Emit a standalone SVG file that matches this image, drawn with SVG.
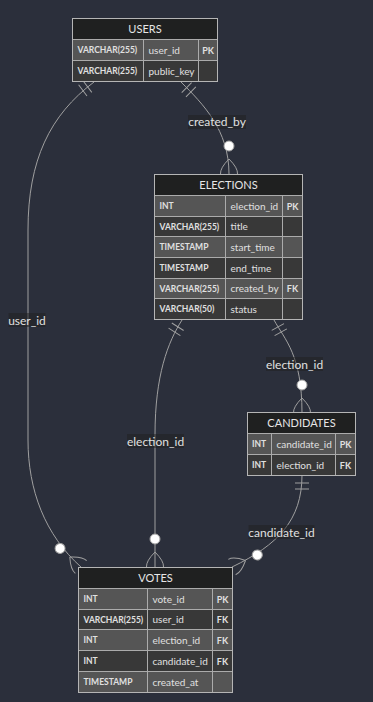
<svg xmlns="http://www.w3.org/2000/svg" width="373" height="702" viewBox="0 0 373 702">
  <style>
    .bg { fill: #2b2f3b; }
    .title { fill: #1f2020; stroke: #ababab; stroke-width: 1; }
    .odd { fill: #555555; stroke: #ababab; stroke-width: 1; }
    .even { fill: #383838; stroke: #ababab; stroke-width: 1; }
    .frame { fill: none; stroke: #b5b5b5; stroke-width: 1; }
    .tname { font-family: Lato, "Liberation Sans", sans-serif; font-size: 11px; fill: #e6e6e6; text-anchor: middle; }
    .type { font-family: Lato, "Liberation Sans", sans-serif; font-size: 8.5px; font-weight: bold; fill: #e0e0e0; }
    .attr { font-family: Lato, "Liberation Sans", sans-serif; font-size: 10px; fill: #e0e0e0; }
    .key { font-family: Lato, "Liberation Sans", sans-serif; font-size: 9px; font-weight: bold; fill: #e0e0e0; text-anchor: middle; }
    .rel { fill: none; stroke: #a0a0a0; stroke-width: 1; }
    .lblbg { fill: #1f2020; opacity: 0.5; }
    .lbl { font-family: Lato, "Liberation Sans", sans-serif; font-size: 12px; fill: #e0e0e0; text-anchor: middle; }
  </style>
  <defs>
    <marker id="onlyOneStart" viewBox="0 -9 18 18" refX="0" refY="0" markerWidth="18" markerHeight="18" markerUnits="userSpaceOnUse" orient="auto" overflow="visible">
      <path d="M8,-7 L8,7 M14,-7 L14,7" fill="none" stroke="#a0a0a0" stroke-width="1"/>
    </marker>
    <marker id="zeroOrMoreEnd" viewBox="-36 -10 38 20" refX="0" refY="0" markerWidth="38" markerHeight="20" markerUnits="userSpaceOnUse" orient="auto" overflow="visible">
      <path d="M-15,0 Q-6,-9 0,-8.5 M-15,0 Q-6,9 0,8.5" fill="none" stroke="#a0a0a0" stroke-width="1"/>
      <circle cx="-28" cy="0" r="5" fill="#ffffff" stroke="#a0a0a0" stroke-width="1"/>
    </marker>
  </defs>

  <rect class="bg" x="0" y="0" width="373" height="702"/>

  <!-- relationships -->
  <g id="connectors">
    <path class="rel" d="M181,82 C203,104 229,130 229,174" marker-start="url(#onlyOneStart)" marker-end="url(#zeroOrMoreEnd)"/>
    <path class="rel" d="M94,82 C50,115 28,160 28,230 L28,440 C28,490 45,535 81,567" marker-start="url(#onlyOneStart)" marker-end="url(#zeroOrMoreEnd)"/>
    <path class="rel" d="M274,320 C285,340 302,355 302,413" marker-start="url(#onlyOneStart)" marker-end="url(#zeroOrMoreEnd)"/>
    <path class="rel" d="M182,320 C168,342 155,375 155,435 L155,567" marker-start="url(#onlyOneStart)" marker-end="url(#zeroOrMoreEnd)"/>
    <path class="rel" d="M302,475 C302,520 278,545 232,567" marker-start="url(#onlyOneStart)" marker-end="url(#zeroOrMoreEnd)"/>

    <rect class="lblbg" x="188" y="115" width="58" height="14"/>
    <text class="lbl" x="217" y="126">created_by</text>
    <rect class="lblbg" x="8.5" y="313" width="37" height="14"/>
    <text class="lbl" x="27" y="324.5">user_id</text>
    <rect class="lblbg" x="266" y="357" width="57" height="14"/>
    <text class="lbl" x="294.5" y="368.5">election_id</text>
    <rect class="lblbg" x="127" y="434" width="57" height="14"/>
    <text class="lbl" x="155.5" y="445.5">election_id</text>
    <rect class="lblbg" x="248.5" y="525" width="66" height="14"/>
    <text class="lbl" x="281.5" y="536.5">candidate_id</text>
  </g>

  <!-- USERS -->
  <g id="users">
    <rect class="title" x="72.5" y="18.5" width="145" height="21"/>
    <text class="tname" x="145" y="33">USERS</text>
    <rect class="odd" x="72.5" y="39.5" width="71" height="21"/>
    <rect class="odd" x="143.5" y="39.5" width="55" height="21"/>
    <rect class="odd" x="198.5" y="39.5" width="19" height="21"/>
    <rect class="even" x="72.5" y="60.5" width="71" height="21"/>
    <rect class="even" x="143.5" y="60.5" width="55" height="21"/>
    <rect class="even" x="198.5" y="60.5" width="19" height="21"/>
    <rect class="frame" x="72.5" y="18.5" width="145" height="63"/>
    <text class="type" x="77.5" y="53">VARCHAR(255)</text>
    <text class="attr" x="148.5" y="53.5">user_id</text>
    <text class="key" x="208" y="53.5">PK</text>
    <text class="type" x="77.5" y="74">VARCHAR(255)</text>
    <text class="attr" x="148.5" y="74.5">public_key</text>
  </g>

  <!-- ELECTIONS -->
  <g id="elections">
    <rect class="title" x="154.5" y="174.5" width="148" height="21"/>
    <text class="tname" x="228.5" y="189">ELECTIONS</text>
    <rect class="odd" x="154.5" y="195.5" width="71" height="21"/>
    <rect class="odd" x="225.5" y="195.5" width="57" height="21"/>
    <rect class="odd" x="282.5" y="195.5" width="20" height="21"/>
    <rect class="even" x="154.5" y="216.5" width="71" height="20"/>
    <rect class="even" x="225.5" y="216.5" width="57" height="20"/>
    <rect class="even" x="282.5" y="216.5" width="20" height="20"/>
    <rect class="odd" x="154.5" y="236.5" width="71" height="21"/>
    <rect class="odd" x="225.5" y="236.5" width="57" height="21"/>
    <rect class="odd" x="282.5" y="236.5" width="20" height="21"/>
    <rect class="even" x="154.5" y="257.5" width="71" height="21"/>
    <rect class="even" x="225.5" y="257.5" width="57" height="21"/>
    <rect class="even" x="282.5" y="257.5" width="20" height="21"/>
    <rect class="odd" x="154.5" y="278.5" width="71" height="20"/>
    <rect class="odd" x="225.5" y="278.5" width="57" height="20"/>
    <rect class="odd" x="282.5" y="278.5" width="20" height="20"/>
    <rect class="even" x="154.5" y="298.5" width="71" height="21"/>
    <rect class="even" x="225.5" y="298.5" width="57" height="21"/>
    <rect class="even" x="282.5" y="298.5" width="20" height="21"/>
    <rect class="frame" x="154.5" y="174.5" width="148" height="145"/>
    <text class="type" x="159.5" y="209">INT</text>
    <text class="attr" x="230.5" y="209.5">election_id</text>
    <text class="key" x="292.5" y="209.5">PK</text>
    <text class="type" x="159.5" y="229.5">VARCHAR(255)</text>
    <text class="attr" x="230.5" y="230">title</text>
    <text class="type" x="159.5" y="250">TIMESTAMP</text>
    <text class="attr" x="230.5" y="250.5">start_time</text>
    <text class="type" x="159.5" y="271">TIMESTAMP</text>
    <text class="attr" x="230.5" y="271.5">end_time</text>
    <text class="type" x="159.5" y="291.5">VARCHAR(255)</text>
    <text class="attr" x="230.5" y="292">created_by</text>
    <text class="key" x="292.5" y="292">FK</text>
    <text class="type" x="159.5" y="312">VARCHAR(50)</text>
    <text class="attr" x="230.5" y="312.5">status</text>
  </g>

  <!-- CANDIDATES -->
  <g id="candidates">
    <rect class="title" x="247.5" y="412.5" width="108" height="21"/>
    <text class="tname" x="301.5" y="427">CANDIDATES</text>
    <rect class="odd" x="247.5" y="433.5" width="24" height="21"/>
    <rect class="odd" x="271.5" y="433.5" width="64" height="21"/>
    <rect class="odd" x="335.5" y="433.5" width="20" height="21"/>
    <rect class="even" x="247.5" y="454.5" width="24" height="21"/>
    <rect class="even" x="271.5" y="454.5" width="64" height="21"/>
    <rect class="even" x="335.5" y="454.5" width="20" height="21"/>
    <rect class="frame" x="247.5" y="412.5" width="108" height="63"/>
    <text class="type" x="252" y="447">INT</text>
    <text class="attr" x="276.5" y="447.5">candidate_id</text>
    <text class="key" x="345.5" y="447.5">PK</text>
    <text class="type" x="252" y="468">INT</text>
    <text class="attr" x="276.5" y="468.5">election_id</text>
    <text class="key" x="345.5" y="468.5">FK</text>
  </g>

  <!-- VOTES -->
  <g id="votes">
    <rect class="title" x="78.5" y="567.5" width="154" height="21"/>
    <text class="tname" x="155.5" y="582">VOTES</text>
    <rect class="odd" x="78.5" y="588.5" width="69" height="21"/>
    <rect class="odd" x="147.5" y="588.5" width="65" height="21"/>
    <rect class="odd" x="212.5" y="588.5" width="20" height="21"/>
    <rect class="even" x="78.5" y="609.5" width="69" height="20"/>
    <rect class="even" x="147.5" y="609.5" width="65" height="20"/>
    <rect class="even" x="212.5" y="609.5" width="20" height="20"/>
    <rect class="odd" x="78.5" y="629.5" width="69" height="21"/>
    <rect class="odd" x="147.5" y="629.5" width="65" height="21"/>
    <rect class="odd" x="212.5" y="629.5" width="20" height="21"/>
    <rect class="even" x="78.5" y="650.5" width="69" height="21"/>
    <rect class="even" x="147.5" y="650.5" width="65" height="21"/>
    <rect class="even" x="212.5" y="650.5" width="20" height="21"/>
    <rect class="odd" x="78.5" y="671.5" width="69" height="21"/>
    <rect class="odd" x="147.5" y="671.5" width="65" height="21"/>
    <rect class="odd" x="212.5" y="671.5" width="20" height="21"/>
    <rect class="frame" x="78.5" y="567.5" width="154" height="125"/>
    <text class="type" x="83.5" y="602">INT</text>
    <text class="attr" x="152.5" y="602.5">vote_id</text>
    <text class="key" x="222.5" y="602.5">PK</text>
    <text class="type" x="83.5" y="622.5">VARCHAR(255)</text>
    <text class="attr" x="152.5" y="623">user_id</text>
    <text class="key" x="222.5" y="623">FK</text>
    <text class="type" x="83.5" y="643">INT</text>
    <text class="attr" x="152.5" y="643.5">election_id</text>
    <text class="key" x="222.5" y="643.5">FK</text>
    <text class="type" x="83.5" y="664">INT</text>
    <text class="attr" x="152.5" y="664.5">candidate_id</text>
    <text class="key" x="222.5" y="664.5">FK</text>
    <text class="type" x="83.5" y="685">TIMESTAMP</text>
    <text class="attr" x="152.5" y="685.5">created_at</text>
  </g>
</svg>
